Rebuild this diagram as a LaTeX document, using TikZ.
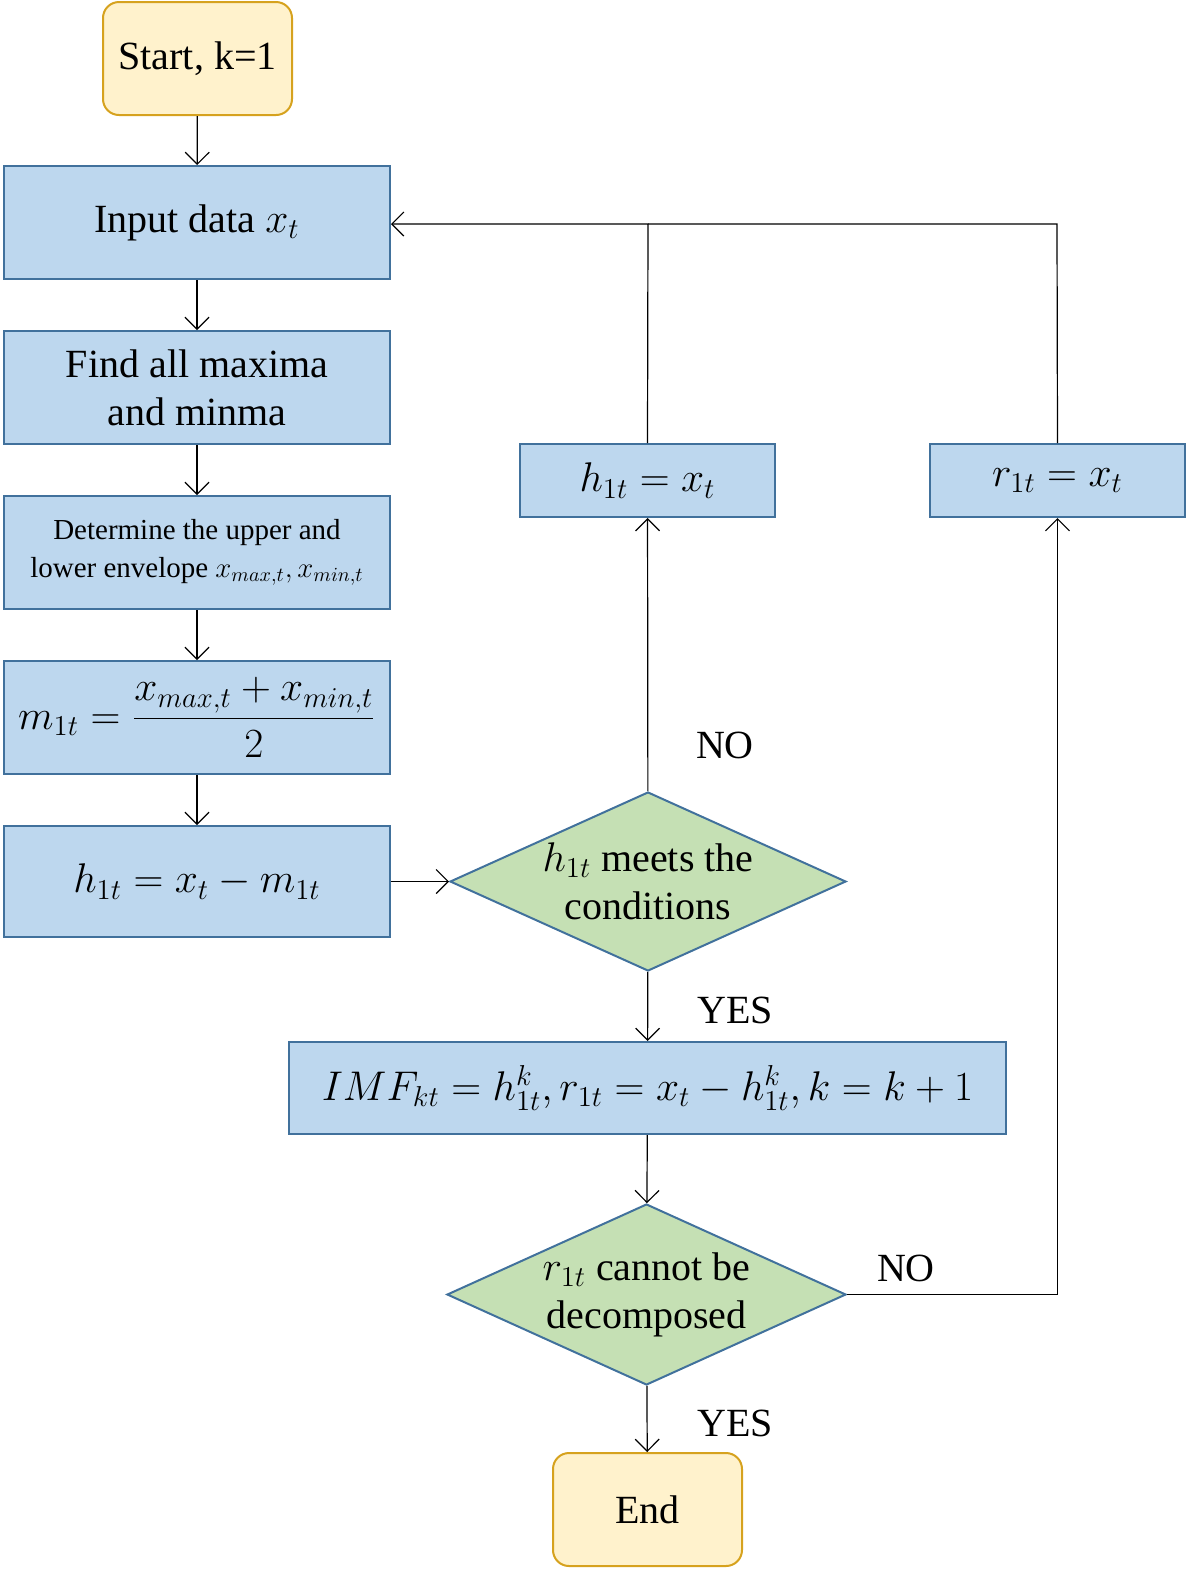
\documentclass[tikz,border=0pt]{standalone}
\usepackage{amsmath}
\usepackage{fontspec}
\setmainfont{Liberation Serif}
\usetikzlibrary{shapes.geometric,arrows.meta}
\definecolor{bfill}{HTML}{BDD7EE}\definecolor{bdraw}{HTML}{41719C}
\definecolor{yfill}{HTML}{FFF2CC}\definecolor{ydraw}{HTML}{D6A21E}
\definecolor{gfill}{HTML}{C5E0B4}
\begin{document}
\begin{tikzpicture}[x=0.5pt,y=-0.5pt,
 box/.style={draw=bdraw,fill=bfill,line width=1pt,inner sep=0,font=\fontsize{20}{24}\selectfont,align=center},
 term/.style={draw=ydraw,fill=yfill,line width=1pt,rounded corners=8pt,minimum width=94.5pt,minimum height=56.5pt,font=\fontsize{20}{24}\selectfont},
 dia/.style={diamond,draw=bdraw,fill=gfill,line width=1pt,inner sep=0,aspect=2.2},
 txt/.style={font=\fontsize{20}{24}\selectfont,align=center},
 ar/.style={-{Straight Barb[length=6pt,width=12pt]},line width=0.6pt}, ln/.style={line width=0.6pt}]
\useasboundingbox (0,0) rectangle (1200,1587);
\node[term] (start) at (197.5,58.5) {Start, k=1};
\node[box,minimum width=193pt,minimum height=56.5pt] (in) at (197,222.5) {Input data $x_t$};
\node[box,minimum width=193pt,minimum height=56.5pt] (find) at (197,387.5) {Find all maxima\\and minma};
\node[box,minimum width=193pt,minimum height=56.5pt,font=\fontsize{14.5}{19}\selectfont] (det) at (197,552.5) {Determine the upper and\\lower envelope $x_{max,t},x_{min,t}$};
\node[box,minimum width=193pt,minimum height=56.5pt] (m) at (197,717.5) {$m_{1t}=\dfrac{x_{max,t}+x_{min,t}}{2}$};
\node[box,minimum width=193pt,minimum height=55.5pt] (h) at (197,881.5) {$h_{1t}=x_t-m_{1t}$};
\node[dia,minimum width=198pt,minimum height=89.5pt] (d1) at (648,881.5) {};
\node[txt] at (d1) {$h_{1t}$ meets the\\conditions};
\node[box,minimum width=127.5pt,minimum height=36.5pt] (hx) at (647.5,480.5) {$h_{1t}=x_t$};
\node[box,minimum width=127.5pt,minimum height=36.5pt] (rx) at (1057.5,480.5) {$r_{1t}=x_t$};
\node[box,minimum width=358.5pt,minimum height=46pt] (imf) at (647.5,1088) {$IMF_{kt}=h_{1t}^{k},r_{1t}=x_t-h_{1t}^{k},k=k+1$};
\node[dia,minimum width=199.5pt,minimum height=90.5pt] (d2) at (646.5,1294.5) {};
\node[txt] at (d2) {$r_{1t}$ cannot be\\decomposed};
\node[term] (end) at (647.5,1509.5) {End};
\node[txt] at (725,745) {NO};
\node[txt] at (735,1010) {YES};
\node[txt] at (906,1268) {NO};
\node[txt] at (735,1423) {YES};
\coordinate (j1) at (648,224); \coordinate (j2) at (1057,224);
\draw[ar] (start) -- (in);
\draw[ar] (in) -- (find);
\draw[ar] (find) -- (det);
\draw[ar] (det) -- (m);
\draw[ar] (m) -- (h);
\draw[ar] (h) -- (d1);
\draw[ar] (d1) -- (hx);
\draw[ar] (hx.north) -- (j1) -- (in.east|-j1);
\draw[ln] (rx.north) -- (j2) -- (j1);
\draw[ar] (d1) -- (imf);
\draw[ar] (imf) -- (d2);
\draw[ar] (d2.east) -| (rx.south);
\draw[ar] (d2) -- (end);
\end{tikzpicture}
\end{document}
